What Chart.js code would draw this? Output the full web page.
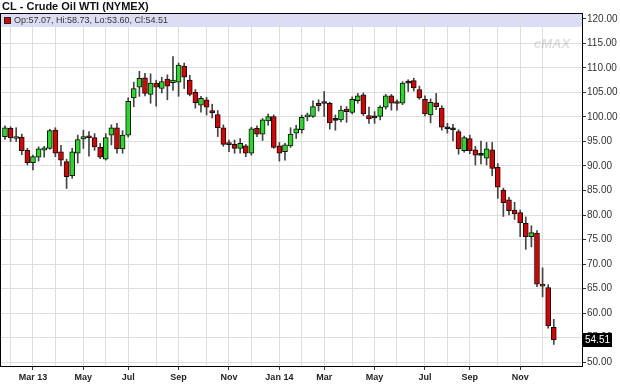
<!DOCTYPE html>
<html>
<head>
<meta charset="utf-8">
<script src="https://cdn.jsdelivr.net/npm/chart.js@4.4.0/dist/chart.umd.min.js"></script>
<style>
  html, body { margin: 0; padding: 0; background: #fff; }
</style>
</head>
<body>
<canvas id="graficoCL" width="620" height="384"></canvas>
<script>
// semanas (segunda-feira de cada semana)
const weeks = [
  '01/28/13','02/04/13','02/11/13','02/18/13','02/25/13','03/04/13','03/11/13','03/18/13','03/25/13','04/01/13',
  '04/08/13','04/15/13','04/22/13','04/29/13','05/06/13','05/13/13','05/20/13','05/27/13','06/03/13','06/10/13',
  '06/17/13','06/24/13','07/01/13','07/08/13','07/15/13','07/22/13','07/29/13','08/05/13','08/12/13','08/19/13',
  '08/26/13','09/02/13','09/09/13','09/16/13','09/23/13','09/30/13','10/07/13','10/14/13','10/21/13','10/28/13',
  '11/04/13','11/11/13','11/18/13','11/25/13','12/02/13','12/09/13','12/16/13','12/23/13','12/30/13',
  '01/06/14','01/13/14','01/20/14','01/27/14','02/03/14','02/10/14','02/17/14','02/24/14','03/03/14','03/10/14',
  '03/17/14','03/24/14','03/31/14','04/07/14','04/14/14','04/21/14','04/28/14','05/05/14','05/12/14','05/19/14',
  '05/26/14','06/02/14','06/09/14','06/16/14','06/23/14','06/30/14','07/07/14','07/14/14','07/21/14','07/28/14',
  '08/04/14','08/11/14','08/18/14','08/25/14','09/01/14','09/08/14','09/15/14','09/22/14','09/29/14','10/06/14',
  '10/13/14','10/20/14','10/27/14','11/03/14','11/10/14','11/17/14','11/24/14','12/01/14','12/08/14','12/15/14'
];

const open = [
  96.0, 97.7, 95.6, 95.9, 93.2, 90.7, 91.8, 93.2, 93.6, 97.3,
  92.9, 90.9, 88.0, 92.6, 95.5, 95.9, 95.8, 93.8, 91.4, 96.3,
  97.8, 93.5, 96.3, 103.9, 106.1, 108.0, 104.6, 106.9, 105.8, 107.7,
  107.0, 107.1, 110.4, 107.5, 105.0, 102.4, 103.5, 101.3, 100.5, 97.8,
  94.5, 94.4, 93.6, 94.1, 92.6, 97.7, 96.5, 99.2, 100.1,
  94.1, 92.9, 94.1, 96.7, 97.4, 100.0, 100.1, 102.8, 102.9, 102.8,
  99.3, 99.4, 101.6, 100.9, 103.3, 104.5, 100.3, 99.8, 100.1, 102.0,
  104.3, 102.9, 102.8, 106.9, 107.4, 105.6, 103.6, 100.4, 102.9, 101.8,
  97.7, 97.4, 97.0, 93.1, 95.6, 93.3, 92.2, 91.6, 93.3, 89.7,
  85.1, 83.1, 81.0, 80.5, 78.3, 75.6, 76.3, 65.7, 65.2, 57.07
];
const high = [
  98.2, 98.0, 97.8, 96.5, 93.6, 92.2, 93.9, 94.0, 97.5, 97.8,
  94.2, 91.4, 93.6, 96.3, 97.3, 97.0, 96.6, 94.6, 96.6, 98.4,
  98.7, 97.2, 103.9, 107.1, 109.3, 108.9, 108.8, 107.5, 108.1, 108.6,
  112.3, 111.0, 111.0, 108.5, 105.6, 104.2, 104.0, 102.6, 101.3, 98.4,
  95.3, 95.3, 95.6, 94.4, 97.9, 98.2, 99.7, 100.6, 100.4,
  94.8, 94.6, 97.8, 98.3, 100.4, 100.8, 103.3, 103.5, 105.2, 103.0,
  100.4, 102.2, 102.1, 104.1, 104.8, 104.9, 102.0, 101.1, 102.3, 104.6,
  104.6, 103.5, 107.2, 107.6, 107.9, 106.3, 104.3, 103.7, 104.8, 102.3,
  98.7, 98.5, 97.4, 96.1, 96.3, 94.0, 95.1, 94.8, 94.8, 90.5,
  85.5, 83.6, 82.6, 81.0, 79.6, 77.8, 76.8, 69.2, 65.8, 58.73
];
const low = [
  95.4, 95.0, 95.0, 92.3, 90.2, 89.2, 91.0, 91.8, 93.4, 91.9,
  90.0, 85.4, 87.5, 90.6, 93.6, 92.0, 93.2, 91.5, 91.2, 94.3,
  92.6, 92.6, 95.9, 102.1, 104.2, 104.3, 102.8, 102.2, 104.9, 103.5,
  105.4, 104.2, 105.8, 104.3, 101.8, 101.0, 100.4, 99.8, 96.0, 94.0,
  92.9, 92.6, 92.6, 91.9, 92.2, 96.0, 95.2, 98.3, 93.6,
  91.0, 91.2, 93.8, 95.6, 96.7, 99.2, 99.9, 101.2, 100.1, 97.5,
  97.3, 99.0, 98.9, 100.6, 102.8, 100.3, 98.7, 98.7, 99.4, 101.6,
  101.4, 101.4, 102.5, 105.2, 105.3, 103.6, 100.2, 98.8, 101.5, 97.3,
  96.7, 95.1, 92.4, 92.8, 92.5, 90.2, 90.4, 90.2, 88.0, 83.4,
  79.7, 80.0, 79.1, 75.6, 73.0, 73.5, 65.4, 63.3, 56.9, 53.60
];
const close = [
  97.8, 95.7, 95.9, 93.1, 90.7, 91.9, 93.5, 93.7, 97.2, 92.6,
  91.2, 87.8, 92.9, 95.4, 96.0, 95.75, 93.9, 91.8, 95.8, 97.8,
  93.5, 96.3, 103.2, 105.8, 107.9, 104.8, 106.9, 106.1, 107.2, 106.3,
  107.5, 110.6, 108.1, 104.6, 102.9, 103.8, 102.0, 100.8, 97.8, 94.4,
  94.35, 93.6, 94.6, 92.6, 97.6, 96.5, 99.4, 100.1, 93.8,
  92.6, 94.3, 96.5, 97.6, 99.9, 100.15, 102.1, 102.3, 102.75, 98.8,
  99.35, 101.4, 101.1, 103.6, 104.3, 100.6, 99.6, 99.85, 102.0, 104.3,
  102.8, 102.75, 106.9, 107.0, 105.9, 103.9, 100.6, 103.0, 102.1, 97.9,
  97.6, 97.35, 93.5, 95.8, 93.1, 92.2, 92.15, 93.5, 89.5, 85.7,
  82.5, 80.9, 80.2, 78.4, 75.6, 76.4, 65.9, 65.5, 57.4, 54.51
];

// primeira semana de cada mês (linhas de grade) e rótulos do eixo x
const monthWeeks = [
  '02/04/13','03/04/13','04/01/13','05/06/13','06/03/13','07/01/13','08/05/13','09/02/13','10/07/13','11/04/13','12/02/13',
  '01/06/14','02/03/14','03/03/14','04/07/14','05/05/14','06/02/14','07/07/14','08/04/14','09/01/14','10/06/14','11/03/14','12/01/14'
];
const monthLabels = [
  '', 'Mar 13', '', 'May', '', 'Jul', '', 'Sep', '', 'Nov', '',
  'Jan 14', '', 'Mar', '', 'May', '', 'Jul', '', 'Sep', '', 'Nov', ''
];

const yTicks = [50, 55, 60, 65, 70, 75, 80, 85, 90, 95, 100, 105, 110, 115, 120];

const tickPos = monthWeeks.map(w => weeks.indexOf(w) + 1);
const labelAt = {};
tickPos.forEach((p, i) => { labelAt[p] = monthLabels[i]; });

const RED = '#dd0000';
const GREEN = '#22dd22';

const bodyColors = open.map((o, i) => {
  const d = close[i] - o;
  if (Math.abs(d) < 0.12) return '#111';
  return d > 0 ? GREEN : RED;
});

const lastO = open[open.length - 1], lastH = high[high.length - 1];
const lastL = low[low.length - 1], lastC = close[close.length - 1];

const decoracao = {
  id: 'decoracao',
  beforeDraw(chart) {
    const { ctx, chartArea: a } = chart;
    ctx.save();
    ctx.fillStyle = '#fff';
    ctx.fillRect(0, 0, chart.width, chart.height);
    ctx.fillStyle = '#dddcf6';
    ctx.fillRect(a.left, a.top, a.right - a.left, 13);
    ctx.restore();
  },
  afterDraw(chart) {
    const { ctx, chartArea: a } = chart;
    const y = chart.scales.y;
    ctx.save();
    // moldura
    ctx.strokeStyle = '#000';
    ctx.lineWidth = 1;
    ctx.strokeRect(a.left - 0.5, a.top - 0.5, a.right - a.left + 1, a.bottom - a.top + 1);

    // título
    ctx.fillStyle = '#111';
    ctx.font = 'bold 11px "Liberation Sans", Arial, sans-serif';
    ctx.textBaseline = 'top';
    ctx.fillText('CL - Crude Oil WTI (NYMEX)', 2, 1);

    // legenda OHLC
    ctx.fillStyle = RED;
    ctx.fillRect(4, a.top + 3, 7, 7);
    ctx.strokeStyle = '#222';
    ctx.strokeRect(4.5, a.top + 3.5, 6, 6);
    ctx.fillStyle = '#333';
    ctx.font = '9px "Liberation Sans", Arial, sans-serif';
    ctx.textBaseline = 'middle';
    ctx.fillText(`Op:${lastO.toFixed(2)}, Hi:${lastH.toFixed(2)}, Lo:${lastL.toFixed(2)}, Cl:${lastC.toFixed(2)}`, 14, a.top + 7);

    // marca d'água
    ctx.fillStyle = 'rgba(0,0,0,0.13)';
    ctx.font = 'italic bold 13px "Liberation Sans", Arial, sans-serif';
    ctx.fillText('cMAX', 534, 44);

    // etiqueta do último preço
    const py = Math.round(y.getPixelForValue(lastC));
    ctx.fillStyle = '#000';
    ctx.fillRect(a.right + 1, py - 7, 29, 14);
    ctx.fillStyle = '#fff';
    ctx.font = '10px "Liberation Sans", Arial, sans-serif';
    ctx.textBaseline = 'middle';
    ctx.fillText(lastC.toFixed(2), a.right + 3, py + 0.5);
    ctx.restore();
  }
};

const ctx = document.getElementById('graficoCL').getContext('2d');
new Chart(ctx, {
  type: 'bar',
  data: {
    datasets: [
      {
        label: 'pavios',
        data: weeks.map((w, i) => ({ x: i + 1, y: [low[i], high[i]] })),
        backgroundColor: '#444',
        barThickness: 1,
        grouped: false,
        order: 2
      },
      {
        label: 'corpos',
        data: weeks.map((w, i) => ({ x: i + 1, y: [open[i], close[i]] })),
        backgroundColor: bodyColors,
        borderColor: '#111',
        borderWidth: 1,
        borderSkipped: false,
        barThickness: 5,
        minBarLength: 2,
        grouped: false,
        order: 1
      }
    ]
  },
  options: {
    responsive: false,
    animation: false,
    layout: { padding: { top: 14, left: 1, right: 0, bottom: 0 } },
    plugins: {
      legend: { display: false },
      tooltip: { enabled: false },
      title: { display: false }
    },
    scales: {
      x: {
        type: 'linear',
        min: 0.29,
        max: 104.04,
        offset: false,
        border: { display: false },
        grid: {
          offset: false,
          color: '#dedede',
          tickLength: 4,
          tickColor: c => (labelAt[c.tick && c.tick.value] ? '#333' : 'rgba(0,0,0,0)')
        },
        afterBuildTicks: s => { s.ticks = tickPos.map(v => ({ value: v })); },
        afterFit: s => { s.height = 18; },
        ticks: {
          autoSkip: false,
          maxRotation: 0,
          padding: 2,
          color: '#222',
          font: { family: '"Liberation Sans", Arial, sans-serif', size: 9, weight: 'bold' },
          callback: v => labelAt[v] || ''
        }
      },
      y: {
        position: 'right',
        min: 49.2,
        max: 121.0,
        border: { display: false },
        grid: { color: '#dedede', tickLength: 4, tickColor: '#333' },
        afterBuildTicks: s => { s.ticks = yTicks.map(v => ({ value: v })); },
        afterFit: s => { s.width = 38; },
        ticks: {
          padding: 1,
          color: '#333',
          font: { family: '"Liberation Sans", Arial, sans-serif', size: 10 },
          callback: v => Number(v).toFixed(2)
        }
      }
    }
  },
  plugins: [decoracao]
});
</script>
</body>
</html>
